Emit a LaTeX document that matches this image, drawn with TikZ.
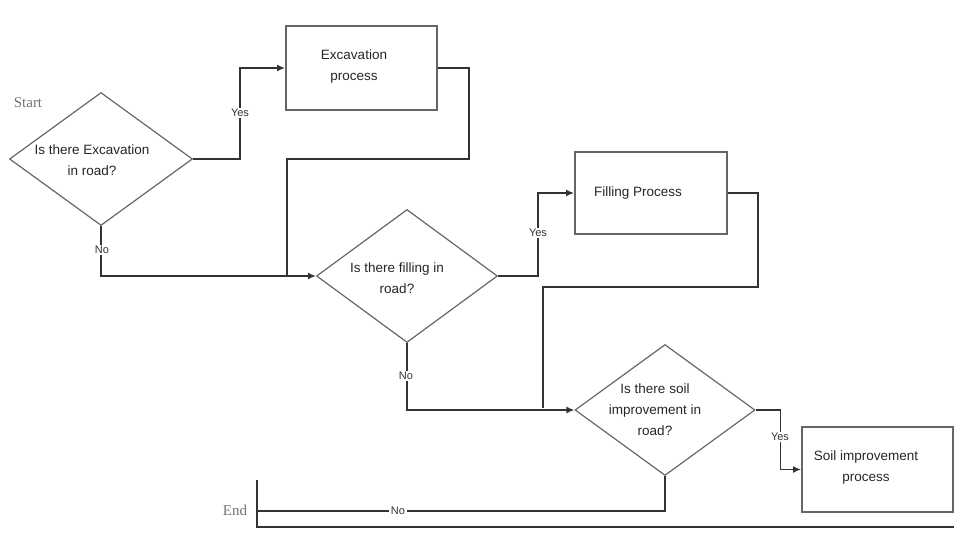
\documentclass[tikz,border=0pt]{standalone}
\usepackage{fontspec}
\setmainfont{Liberation Sans}
\newfontfamily\serifface{Liberation Serif}
\usetikzlibrary{shapes.geometric,arrows.meta}
\definecolor{lnc}{HTML}{333333}
\definecolor{bxc}{HTML}{666666}
\begin{document}
\begin{tikzpicture}[x=1pt,y=-1pt,
  line/.style={draw=lnc,line width=1.4pt},
  arr/.style={line,-{Latex[length=8pt,width=7pt]}},
  dia/.style={shape=diamond,draw=bxc,line width=1.2pt,inner sep=0pt},
  procbox/.style={draw=bxc,line width=1.9pt},
  txt/.style={align=center,font=\fontsize{13.5}{21}\selectfont,text=black!85,inner sep=0pt},
  lbl/.style={fill=white,inner sep=1.5pt,font=\fontsize{11}{13}\selectfont,text=black!80},
  term/.style={font=\serifface\fontsize{15}{17}\selectfont,text=black!55,inner sep=0pt}]
\useasboundingbox (0,0) rectangle (954,540);
% decisions
\node[dia,minimum width=183pt,minimum height=133pt] (d1) at (101,159) {};
\node[txt] (t1) at (92,160) {Is there Excavation\\in road?};
\node[dia,minimum width=181pt,minimum height=133pt] (d2) at (407,276) {};
\node[txt] (t2) at (397,278) {Is there filling in\\road?};
\node[dia,minimum width=180pt,minimum height=131pt] (d3) at (665,410) {};
\node[txt] (t3) at (655,410) {Is there soil\\improvement in\\road?};
% processes
\node[procbox,minimum width=151pt,minimum height=84pt] (b1) at (361.5,68) {};
\node[txt] (tb1) at (354,67) {Excavation\\process};
\node[procbox,minimum width=152pt,minimum height=82pt] (b2) at (651,193) {};
\node[txt] (tb2) at (638,193) {Filling Process};
\node[procbox,minimum width=151pt,minimum height=85pt] (b3) at (877.5,469.5) {};
\node[txt] (tb3) at (866,468) {Soil improvement\\process};
% terminals
\node[term] (start) at (28,103) {Start};
\node[term] (endt) at (235,510) {End};
% junction coordinates
\coordinate (m1) at (287,277);
\coordinate (m2) at (543,408);
\coordinate (e1) at (257,511);
% connectors
\draw[arr] (d1.east) -- ++(47,0) coordinate (y1) |- (b1.west);
\draw[line] (b1.east) -- ++(31,0) |- (m1 |- 0,159) -- (m1);
\draw[arr] (d1.south) |- (d2.west);
\draw[arr] (d2.east) -- ++(40,0) coordinate (y2) |- (b2.west);
\draw[line] (b2.east) -- ++(30,0) |- (m2 |- 0,287) -- (m2);
\draw[arr] (d2.south) |- (d3.west);
\draw[arr] (d3.east) -- ++(25,0) coordinate (y3) |- (b3.west);
\draw[line] (d3.south) |- (e1);
\draw[line] (257,480) -- (257,527) -- (954,527);
% labels
\node[lbl] (ly1) at (240,113) {Yes};
\node[lbl] (ln1) at (102,250) {No};
\node[lbl] (ly2) at (538,233) {Yes};
\node[lbl] (ln2) at (406,376) {No};
\node[lbl] (ly3) at (780,437) {Yes};
\node[lbl] (ln3) at (398,511) {No};
\end{tikzpicture}
\end{document}
